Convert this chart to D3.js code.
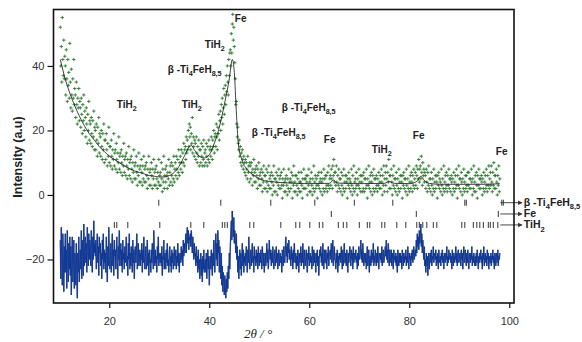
<!DOCTYPE html>
<html><head><meta charset="utf-8">
<script src="https://cdn.jsdelivr.net/npm/d3@7"></script>
<style>body{margin:0;background:#fff}svg{display:block}</style>
</head><body>
<svg id="c" width="582" height="342"></svg>
<script>
// measurement grid (2theta, degrees)
const obsStart = 10.2, obsStep = 0.1;
// observed intensity (one row per degree, 10 points per row)
const observed = [
52,40,46,35,55,42,37,48,36,43,
40,31,45,36,29,42,34,38,30,47,
35,27,39,31,26,36,30,42,28,33,
31,24,35,28,22,30,27,33,23,29,
27,21,30,25,19,28,23,31,20,26,
24,18,27,22,16,25,20,29,17,23,
22,16,24,19,15,23,18,26,14,21,
20,14,22,17,12,21,16,24,13,19,
18,12,20,15,11,19,14,22,10,17,
17,11,19,14,9,16,12,21,10,15,
15,9,17,12,8,14,11,19,9,13,
14,8,16,11,7,13,10,18,8,12,
13,7,14,10,6,12,9,16,7,11,
12,6,13,9,5,11,8,15,6,10,
11,5,12,8,4,10,7,14,5,9,
10,5,12,7,3,9,6,13,4,8,
9,4,11,7,3,9,5,12,4,8,
9,4,10,6,2,8,5,12,3,7,
8,3,10,6,2,8,5,11,3,7,
8,3,9,5,2,7,4,11,3,6,
7,3,10,5,1,8,4,12,2,6,
8,4,9,6,2,7,5,11,3,7,
9,4,10,6,3,9,5,12,4,8,
10,6,12,8,5,11,7,14,6,10,
12,8,14,10,7,13,10,16,9,14,
15,11,18,13,17,14,20,15,22,18,
21,14,19,16,24,13,18,15,12,17,
16,11,18,13,10,15,12,17,9,14,
14,10,16,12,9,15,11,17,9,13,
14,10,16,12,9,15,11,17,10,14,
15,12,18,14,11,17,15,20,13,18,
19,15,22,18,14,21,19,25,17,23,
26,20,28,24,30,22,27,33,25,31,
34,28,37,32,40,35,31,42,37,44,
45,40,50,44,53,56,48,52,46,41,
36,28,29,22,18,21,16,14,17,12,
15,10,13,9,14,11,8,12,10,7,
11,6,10,8,5,12,7,9,4,10,
9,5,10,7,3,8,6,11,4,7,
8,4,9,6,2,8,5,10,3,6,
7,3,8,5,1,7,4,9,2,6,
6,2,8,4,1,7,3,9,2,5,
6,2,7,4,0,6,3,9,1,5,
5,1,7,4,0,6,3,8,2,5,
6,2,7,3,-1,5,3,8,1,4,
5,1,6,3,0,5,2,8,1,4,
5,2,7,4,-1,6,3,9,1,4,
6,1,6,3,0,5,2,7,1,4,
4,1,7,3,-1,5,2,8,2,5,
5,2,6,4,0,6,3,8,1,4,
5,1,7,3,0,5,2,9,1,4,
6,2,5,3,-1,6,3,7,2,4,
5,1,7,4,0,5,2,8,1,5,
6,2,6,3,1,7,3,9,2,5,
6,3,8,5,2,9,6,11,4,7,
7,3,9,4,1,6,3,8,2,5,
5,1,7,3,0,6,2,8,1,4,
6,2,6,4,-1,5,3,7,2,5,
4,1,8,3,0,6,2,9,1,4,
5,2,7,3,0,5,3,8,2,4,
6,1,6,4,1,6,2,7,1,5,
5,2,8,3,-1,5,3,9,2,4,
6,1,7,4,0,6,2,8,1,5,
5,2,6,3,1,5,3,7,2,4,
6,2,8,4,0,6,3,9,1,5,
7,3,9,5,1,7,4,11,2,6,
6,2,8,4,0,6,3,9,2,5,
5,1,7,3,0,5,2,8,1,4,
6,2,6,4,-1,6,3,7,2,5,
5,1,8,3,0,5,2,9,1,4,
6,2,7,4,1,6,3,8,2,5,
7,3,9,6,2,8,5,11,4,8,
9,5,12,7,3,10,6,8,4,7,
6,2,8,4,1,7,3,9,2,5,
5,1,7,3,0,5,2,8,1,4,
6,2,6,4,-1,6,3,7,2,5,
4,1,8,3,0,5,2,9,1,4,
6,2,7,3,1,6,3,8,2,5,
5,1,6,4,0,5,2,7,1,4,
6,2,8,3,-1,6,3,9,2,5,
5,1,7,4,0,5,2,8,1,4,
6,2,6,3,1,7,3,7,2,5,
5,2,8,4,0,5,2,9,1,4,
6,1,7,3,-1,6,3,8,2,5,
5,2,6,4,0,5,2,7,1,4,
6,2,8,3,1,6,3,9,2,5,
7,3,9,4,1,7,3,10,2,6,
6,2,8,4,0,6,3,9,1,5
];
// observed - calculated (offset), same grid
const difference = [
-14,-26,-10,-22,-28,-12,-18,-30,-16,-24,
-12,-24,-17,-29,-11,-21,-27,-15,-23,-13,
-25,-16,-31,-19,-13,-27,-22,-14,-29,-18,
-20,-28,-15,-25,-32,-18,-24,-13,-27,-21,
-17,-23,-11,-26,-19,-14,-25,-9,-22,-16,
-13,-21,-15,-24,-10,-18,-22,-12,-20,-14,
-16,-22,-11,-19,-24,-13,-20,-8,-18,-15,
-19,-14,-23,-17,-12,-21,-16,-25,-13,-18,
-15,-22,-18,-26,-14,-20,-12,-23,-17,-21,
-18,-24,-13,-20,-27,-16,-22,-10,-19,-23,
-20,-15,-24,-18,-12,-22,-17,-25,-14,-19,
-17,-23,-19,-13,-21,-26,-16,-20,-11,-22,
-19,-15,-22,-17,-24,-14,-20,-18,-23,-16,
-21,-17,-13,-22,-19,-25,-15,-20,-12,-23,
-18,-22,-16,-20,-24,-14,-21,-17,-26,-19,
-16,-21,-18,-12,-23,-19,-15,-22,-20,-17,
-22,-18,-20,-15,-24,-17,-21,-13,-19,-23,
-19,-16,-23,-20,-14,-22,-18,-25,-17,-21,
-20,-24,-17,-21,-15,-19,-23,-11,-18,-22,
-17,-21,-19,-24,-16,-20,-13,-22,-18,-20,
-21,-18,-22,-16,-25,-19,-20,-14,-23,-18,
-19,-23,-17,-21,-15,-22,-20,-24,-18,-16,
-22,-19,-24,-17,-21,-18,-23,-20,-16,-22,
-20,-17,-23,-19,-21,-15,-22,-18,-24,-19,
-18,-21,-16,-20,-17,-22,-14,-19,-15,-18,
-16,-12,-18,-13,-10,-15,-11,-17,-13,-14,
-12,-16,-11,-14,-18,-13,-17,-20,-15,-19,
-18,-22,-16,-21,-19,-24,-17,-23,-20,-26,
-22,-18,-25,-20,-27,-19,-23,-17,-24,-21,
-20,-24,-18,-26,-21,-17,-23,-19,-28,-22,
-19,-23,-17,-21,-25,-18,-22,-14,-20,-24,
-17,-12,-20,-15,-22,-11,-18,-14,-24,-16,
-20,-26,-18,-28,-22,-30,-24,-27,-31,-25,
-28,-32,-26,-30,-24,-29,-22,-26,-18,-23,
-16,-12,-8,-14,-5,-10,-13,-7,-15,-11,
-14,-18,-12,-20,-16,-24,-19,-26,-21,-17,
-23,-18,-25,-20,-15,-22,-17,-24,-19,-21,
-18,-22,-16,-20,-24,-17,-21,-13,-19,-23,
-20,-17,-22,-18,-15,-21,-19,-24,-16,-20,
-19,-22,-17,-21,-18,-23,-16,-20,-22,-18,
-21,-17,-20,-23,-16,-19,-22,-18,-24,-20,
-18,-22,-19,-15,-21,-17,-23,-20,-14,-19,
-20,-17,-22,-18,-21,-16,-20,-23,-19,-17,
-22,-19,-16,-21,-18,-23,-20,-17,-22,-19,
-18,-21,-19,-24,-17,-20,-22,-16,-20,-21,
-17,-13,-19,-16,-21,-15,-18,-14,-20,-17,
-19,-22,-16,-20,-18,-23,-17,-21,-15,-19,
-21,-18,-23,-19,-22,-17,-20,-24,-18,-21,
-20,-16,-22,-18,-21,-15,-19,-23,-17,-20,
-22,-19,-17,-21,-24,-18,-20,-16,-22,-19,
-18,-21,-19,-23,-16,-20,-22,-17,-21,-18,
-20,-24,-18,-21,-17,-22,-19,-25,-20,-17,
-19,-16,-21,-18,-22,-15,-20,-23,-17,-21,
-21,-17,-19,-23,-18,-20,-16,-22,-19,-18,
-17,-20,-15,-21,-18,-14,-22,-19,-16,-20,
-20,-23,-18,-21,-17,-24,-19,-22,-18,-20,
-18,-21,-16,-20,-23,-17,-22,-19,-15,-21,
-21,-18,-22,-17,-20,-24,-18,-21,-19,-16,
-19,-22,-17,-20,-18,-23,-16,-21,-20,-18,
-20,-17,-21,-19,-23,-18,-22,-16,-20,-19,
-18,-14,-20,-17,-21,-15,-19,-22,-18,-20,
-21,-18,-23,-19,-16,-22,-20,-17,-24,-19,
-19,-22,-17,-21,-18,-20,-15,-22,-19,-21,
-17,-20,-22,-18,-21,-16,-20,-23,-18,-19,
-20,-18,-21,-16,-22,-19,-17,-21,-20,-18,
-16,-19,-14,-20,-17,-21,-15,-18,-22,-17,
-19,-21,-17,-22,-18,-20,-23,-17,-20,-19,
-21,-18,-22,-19,-24,-17,-20,-22,-18,-21,
-18,-21,-19,-23,-17,-20,-22,-18,-21,-19,
-20,-17,-22,-19,-21,-16,-20,-23,-18,-20,
-19,-22,-18,-20,-17,-21,-19,-16,-20,-18,
-17,-19,-14,-18,-12,-16,-13,-17,-11,-15,
-13,-9,-16,-12,-18,-14,-17,-20,-16,-22,
-20,-24,-18,-22,-19,-25,-21,-18,-23,-20,
-18,-21,-17,-22,-19,-20,-16,-21,-19,-18,
-20,-17,-22,-19,-21,-18,-23,-17,-20,-21,
-19,-22,-18,-20,-17,-21,-19,-23,-18,-20,
-21,-18,-20,-16,-22,-19,-21,-17,-20,-19,
-18,-21,-19,-23,-17,-20,-22,-18,-21,-19,
-20,-16,-21,-18,-22,-19,-17,-21,-20,-18,
-19,-22,-17,-20,-18,-23,-19,-16,-21,-20,
-17,-20,-22,-18,-21,-17,-20,-23,-19,-18,
-21,-18,-20,-16,-22,-19,-21,-18,-20,-22,
-19,-22,-18,-21,-17,-20,-23,-19,-21,-18,
-20,-17,-21,-19,-23,-18,-20,-16,-22,-19,
-18,-21,-19,-22,-17,-20,-18,-23,-19,-21,
-21,-18,-22,-19,-20,-17,-21,-19,-23,-18,
-19,-22,-18,-20,-21,-17,-22,-19,-20,-18
];
// calculated profile
const calcAngles = [10.2,11,12,13,14,15,16,17,18,19,20,21,22,23,24,25,26,27,28,29,30,31,32,33,34,35,35.8,36.3,37,38,39,40,41,42,43,44,44.6,45,45.4,45.8,46.5,47.5,48.5,50,52,55,60,64,64.8,65.6,70,75,76,77,80,81.5,82.3,83,84,86,90,95,98.1];
const calcValues = [42,37,32,28,24.5,21.5,19,17,15,13.5,12,11,10,9,8.2,7.5,7,6.5,6,5.8,5.6,5.6,6,7,9,12,14.5,15.5,14,12,11.5,12.5,16,21,28,36,42,38,26,16,11,8,6.5,5,4.2,3.8,3.5,3.6,4.6,3.7,3.5,3.6,4.2,3.6,3.5,4.2,5.8,4.5,3.6,3.3,3.3,3.3,3.5];
// Bragg reflection positions
const phases = ["β -Ti4FeH8,5", "Fe", "TiH2"];
const betaTicks = [29.9,42.3,52.3,61.1,69.0,76.7,91.1,91.4,98.5,98.8];
const feTicks = [44.6,64.4,81.4,97.8];
const tih2Ticks = [21.0,21.5,23.7,30.1,36.3,38.9,42.6,43.1,43.6,48.1,48.9,54.3,57.3,58.1,60.1,62.0,62.7,65.8,66.8,67.5,70.0,71.6,72.1,74.5,75.1,77.5,79.3,81.5,82.0,82.7,83.5,84.8,85.5,90.5,91.1,92.8,93.5,94.1,94.8,95.8,96.2,96.8,97.7];
const tickRowLevels = [-2.4, -5.9, -9.3];
// axis ticks
const xTickValues = [20,40,60,80,100];
const yTickValues = [-20,0,20,40];
// peak annotations: label, angle, intensity
const annoLabels = ["TiH2","TiH2","β -Ti4FeH8,5","TiH2","Fe","β -Ti4FeH8,5","β -Ti4FeH8,5","Fe","TiH2","Fe","Fe"];
const annoAngles = [21.5,34.5,31.7,39.1,45.1,54.5,48.5,62.9,72.5,80.7,97.3];
const annoValues = [27.0,27.0,37.8,45.6,53.6,26.0,18.3,16.1,13.0,17.4,12.4];

const svg = d3.select("#c");
const x = d3.scaleLinear().domain([8.84, 100.94]).range([53.5, 514]);
const y = d3.scaleLinear().domain([57.5, -33.5]).range([9.5, 303]);
const angleAt = i => obsStart + i * obsStep;

function parts(label) {
  if (label === "TiH2") return [["TiH",0],["2",1]];
  if (label === "Fe") return [["Fe",0]];
  return [["β -Ti",0],["4",1],["FeH",0],["8,5",1]];
}
function drawLabel(g, label, px, py, size) {
  const t = g.append("text").attr("x", px).attr("y", py)
    .attr("font-family", "Liberation Sans, Arial, sans-serif")
    .attr("font-weight", "bold").attr("font-size", size).attr("fill", "#222");
  parts(label).forEach(([s, sub]) => {
    const ts = t.append("tspan").text(s);
    if (sub) ts.attr("font-size", size * 0.72).attr("dy", size * 0.3);
    else ts.attr("dy", t.selectAll("tspan").size() > 1 ? -size * 0.3 : 0);
  });
}

// difference curve: grey halo + blue core
const diffLine = d3.line().x((d, i) => x(angleAt(i))).y(d => y(d));
svg.append("path").datum(difference).attr("d", diffLine)
  .attr("fill", "none").attr("stroke", "#8a8f9c").attr("stroke-width", 1.5);
svg.append("path").datum(difference).attr("d", diffLine)
  .attr("fill", "none").attr("stroke", "#0c3596").attr("stroke-width", 0.9);

// observed crosses
let cross = "";
observed.forEach((v, i) => {
  const px = x(angleAt(i)), py = y(v);
  cross += `M${(px-1.7).toFixed(2)},${py.toFixed(2)}h3.4M${px.toFixed(2)},${(py-1.7).toFixed(2)}v3.4`;
});
svg.append("path").attr("d", cross).attr("fill", "none")
  .attr("stroke", "#2f7a30").attr("stroke-width", 0.9);

// calculated curve
const calcLine = d3.line().x(d => x(d[0])).y(d => y(d[1])).curve(d3.curveMonotoneX);
svg.append("path").datum(d3.zip(calcAngles, calcValues)).attr("d", calcLine)
  .attr("fill", "none").attr("stroke", "#111").attr("stroke-width", 0.8);

// Bragg tick rows
[betaTicks, feTicks, tih2Ticks].forEach((arr, r) => {
  svg.append("g").selectAll("line").data(arr).join("line")
    .attr("x1", d => x(d)).attr("x2", d => x(d))
    .attr("y1", y(tickRowLevels[r]) - 3).attr("y2", y(tickRowLevels[r]) + 3)
    .attr("stroke", "#333").attr("stroke-width", 1);
});

// legend arrows and labels
const defs = svg.append("defs");
defs.append("marker").attr("id", "ah").attr("viewBox", "0 0 6 6").attr("refX", 5).attr("refY", 3)
  .attr("markerWidth", 5).attr("markerHeight", 5).attr("orient", "auto")
  .append("path").attr("d", "M0,0L6,3L0,6Z").attr("fill", "#333");
phases.forEach((name, r) => {
  const py = y(tickRowLevels[r]);
  svg.append("line").attr("x1", x(98.2)).attr("x2", x(102.5)).attr("y1", py).attr("y2", py)
    .attr("stroke", "#333").attr("stroke-width", 0.9).attr("marker-end", "url(#ah)");
  drawLabel(svg, name, x(102.9), py + 3.5, 10.5);
});

// frame
svg.append("rect").attr("x", 53.5).attr("y", 9.5).attr("width", 460.5).attr("height", 293.5)
  .attr("fill", "none").attr("stroke", "#111").attr("stroke-width", 1.6);

// axes
const ax = svg.append("g").attr("transform", "translate(0,303)")
  .call(d3.axisBottom(x).tickValues(xTickValues).tickSize(5).tickPadding(9));
const ay = svg.append("g").attr("transform", "translate(53.5,0)")
  .call(d3.axisLeft(y).tickValues(yTickValues).tickSize(6).tickPadding(3));
[ax, ay].forEach(g => {
  g.select(".domain").remove();
  g.selectAll("line").attr("stroke", "#111").attr("stroke-width", 1.2);
  g.selectAll("text").attr("font-family", "Liberation Sans, Arial, sans-serif")
    .attr("font-size", 11).attr("fill", "#333");
});

// axis titles
svg.append("text").attr("transform", "translate(22,157) rotate(-90)")
  .attr("text-anchor", "middle").attr("font-family", "Liberation Sans, Arial, sans-serif")
  .attr("font-weight", "bold").attr("font-size", 12.5).attr("fill", "#222").text("Intensity (a.u)");
svg.append("text").attr("x", 258).attr("y", 338).attr("text-anchor", "middle")
  .attr("font-family", "Liberation Serif, Times New Roman, serif").attr("font-style", "italic")
  .attr("font-size", 13).attr("fill", "#222").text("2θ / °");

// annotations
annoLabels.forEach((lab, i) => drawLabel(svg, lab, x(annoAngles[i]), y(annoValues[i]), 10));
</script>
</body></html>
